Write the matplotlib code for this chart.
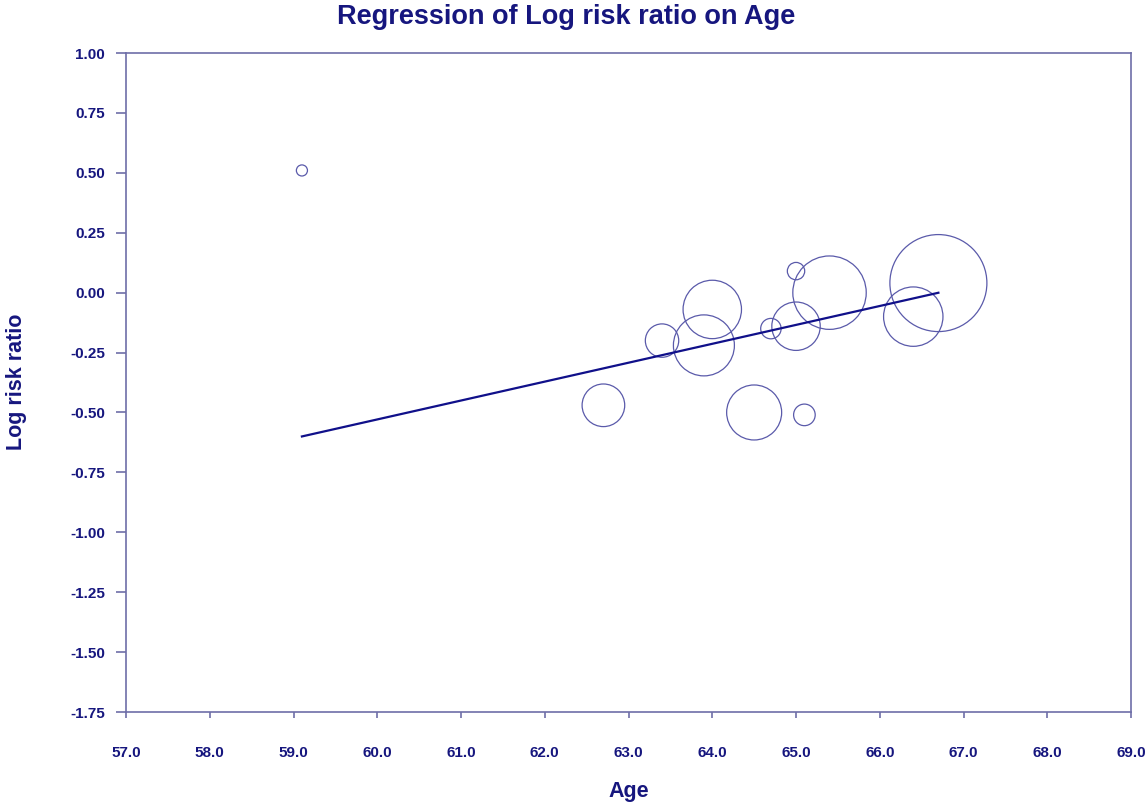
import matplotlib
matplotlib.use("Agg")
import numpy as np
import matplotlib.pyplot as plt

# Studies: mean age, log risk ratio and relative weight (%)
age = [59.1, 62.7, 63.4, 64.0, 63.9, 64.5, 64.7, 65.0, 65.0, 65.1, 65.4, 66.4, 66.7]
log_rr = [0.51, -0.47, -0.20, -0.07, -0.22, -0.50, -0.15, -0.14, 0.09, -0.51, 0.00, -0.10, 0.04]
weight = [0.35, 5.18, 3.18, 9.73, 10.61, 8.63, 1.19, 6.68, 0.86, 1.33, 15.37, 10.06, 26.84]

# Fitted meta-regression line
intercept = -5.263
slope = 0.0789

x_ticks = np.arange(57.0, 69.01, 1.0)
y_ticks = np.arange(-1.75, 1.001, 0.25)

NAVY = "#16167e"
AXIS = "#6e6ea8"
plt.rcParams["font.family"] = ["Liberation Sans", "DejaVu Sans"]

fig = plt.figure(figsize=(11.48, 8.06), dpi=100)
ax = fig.add_axes([0.1098, 0.1166, 0.8754, 0.8176])

sizes = [w * 181.75 for w in weight]
ax.scatter(age, log_rr, s=sizes, facecolors="none", edgecolors="#5a5aaa",
           linewidths=0.9, zorder=3)

xs = np.array([min(age), max(age)])
ax.plot(xs, intercept + slope * xs, color="#10108a", lw=1.6, zorder=4)

ax.set_xlim(57.0, 69.0)
ax.set_ylim(-1.75, 1.00)
ax.set_xticks(x_ticks)
ax.set_xticklabels([f"{v:.1f}" for v in x_ticks])
ax.set_yticks(y_ticks)
ax.set_yticklabels([f"{v:.2f}" for v in y_ticks])

for sp in ax.spines.values():
    sp.set_color(AXIS)
    sp.set_linewidth(1.2)

ax.tick_params(axis="x", direction="out", length=4.5, width=1.2, color=AXIS,
               pad=20, labelsize=11, labelcolor=NAVY)
ax.tick_params(axis="y", direction="out", length=7.2, width=1.2, color=AXIS,
               pad=8, labelsize=11, labelcolor=NAVY)
for lab in ax.get_xticklabels() + ax.get_yticklabels():
    lab.set_fontweight("bold")

fig.text(0.493, 0.979, "Regression of Log risk ratio on Age", ha="center",
         va="center", fontsize=19.5, fontweight="bold", color=NAVY)
fig.text(0.548, 0.0175, "Age", ha="center", va="center", fontsize=15.5,
         fontweight="bold", color=NAVY)
fig.text(0.0148, 0.526, "Log risk ratio", ha="center", va="center",
         rotation=90, fontsize=15.5, fontweight="bold", color=NAVY)

fig.savefig("out.png", dpi=100)
